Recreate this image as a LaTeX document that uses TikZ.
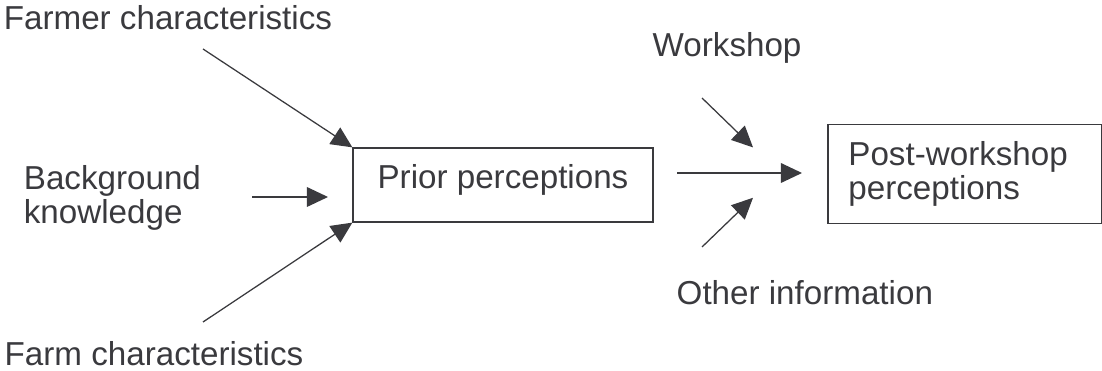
\documentclass[tikz,border=0pt]{standalone}
\usepackage{fontspec}
\setmainfont{Liberation Sans}
\usetikzlibrary{arrows.meta, positioning, calc}

\definecolor{ink}{RGB}{58,58,62}

\begin{document}
\begin{tikzpicture}[
    every node/.style={color=ink, font=\fontsize{23.6}{24.4}\selectfont},
    label/.style={inner sep=0pt},
    box/.style={draw=ink, line width=0.9pt, inner sep=0pt},
    flow/.style={draw=ink, line width=0.9pt, -{Triangle[length=15pt, width=14pt]}}
  ]
  \useasboundingbox (0,0) rectangle (27.55,9.275);

  % perception boxes
  \node[box, minimum width=7.5cm, minimum height=1.85cm, text height=0.6cm, text depth=0.4cm] (prior) at (12.575,4.65) {Prior perceptions};
  \node[box, minimum width=6.83cm, minimum height=2.475cm, text width=5.81cm, align=left, inner xsep=0.51cm] (post) at (24.115,4.93) {Post-workshop\\perceptions};

  % influences
  \node[label, anchor=base west] (farmer) at (0.09,8.54) {Farmer characteristics};
  \node[label, anchor=north west, align=left] (background) at (0.59,5.15) {Background\\knowledge};
  \node[label, anchor=base west] (farm) at (0.11,0.14) {Farm characteristics};
  \node[label, anchor=base west] (workshop) at (16.31,7.85) {Workshop};
  \node[label, anchor=base west] (other) at (16.91,1.65) {Other information};

  % free ends of the arrows
  \coordinate (farmer-s) at (5.075,8.05);
  \coordinate (bg-s) at (6.3,4.35);
  \coordinate (bg-e) at (8.2,4.35);
  \coordinate (farm-s) at (5.075,1.225);
  \coordinate (mid-s) at (16.925,4.95);
  \coordinate (mid-e) at (20.05,4.95);
  \coordinate (ws-s) at (17.55,6.825);
  \coordinate (ws-e) at (18.825,5.59);
  \coordinate (oi-s) at (17.55,3.1);
  \coordinate (oi-e) at (18.825,4.33);

  \draw[flow] (farmer-s) -- (prior.north west);
  \draw[flow] (bg-s) -- (bg-e);
  \draw[flow] (farm-s) -- (prior.south west);
  \draw[flow] (mid-s) -- (mid-e);
  \draw[flow] (ws-s) -- (ws-e);
  \draw[flow] (oi-s) -- (oi-e);
\end{tikzpicture}
\end{document}
